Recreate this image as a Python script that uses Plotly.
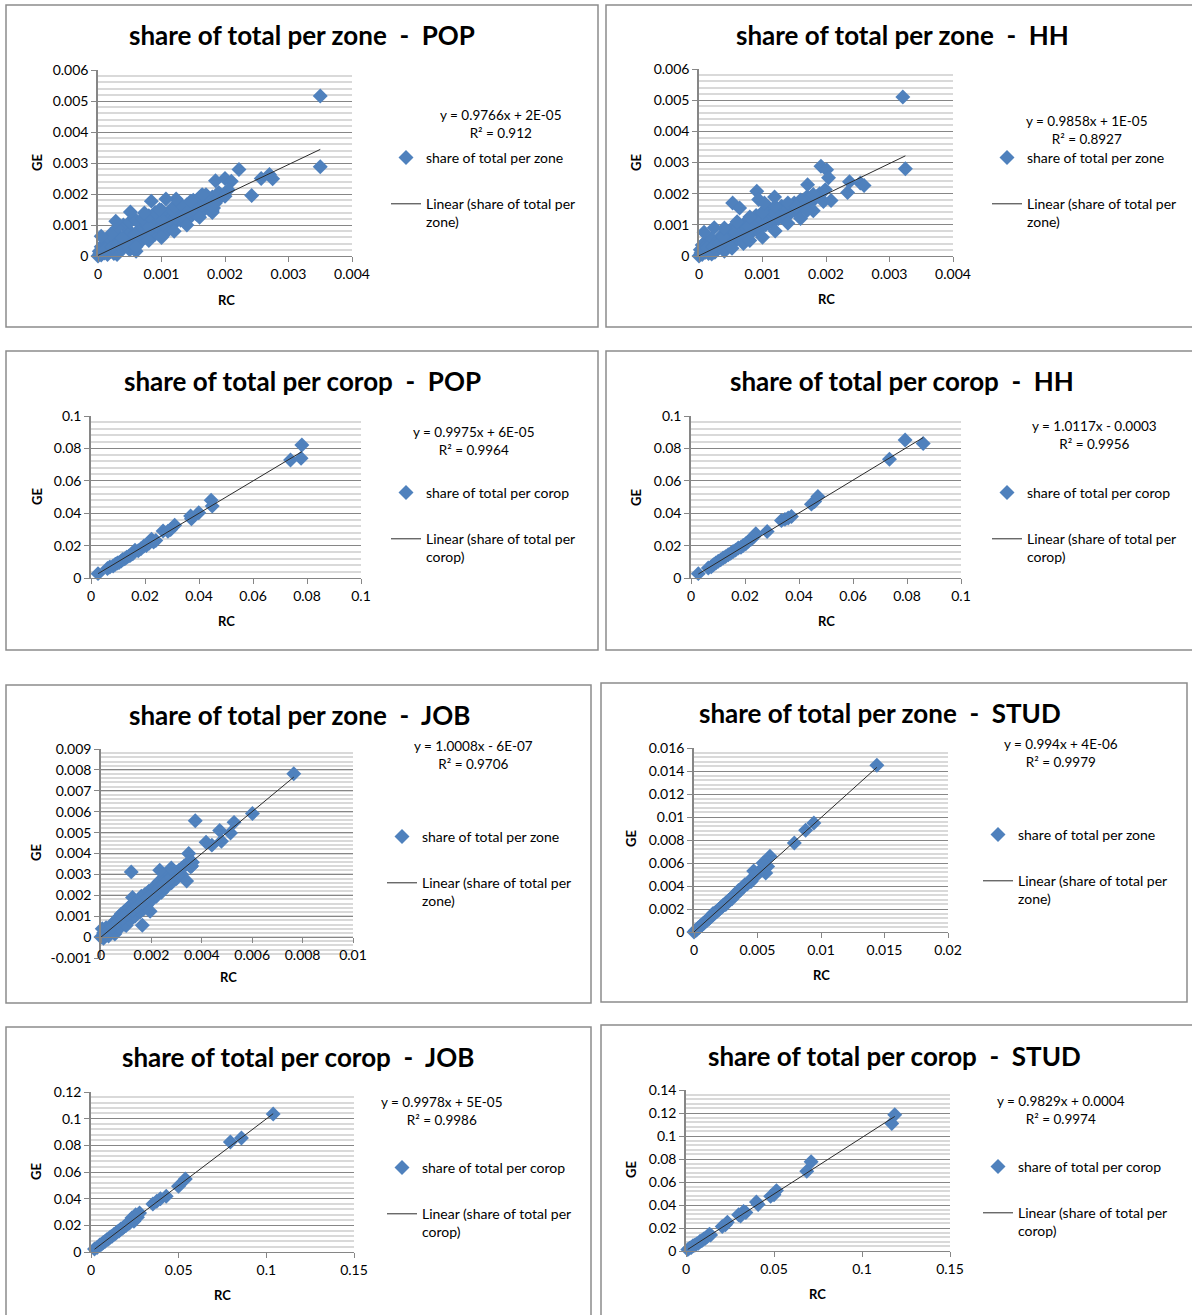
import plotly.graph_objects as go

W, H = 1192, 1315
FONT = "Lato"

# ---------------- data (RC = x, GE = y) ----------------
rc_pop_zone = [
    0.00000, 0.00002, 0.00005, 0.00005, 0.00010, 0.00010, 0.00015, 0.00015, 0.00020, 0.00020,
    0.00025, 0.00025, 0.00030, 0.00030, 0.00035, 0.00035, 0.00040, 0.00040, 0.00045, 0.00045,
    0.00050, 0.00050, 0.00050, 0.00055, 0.00055, 0.00060, 0.00060, 0.00065, 0.00065, 0.00070,
    0.00070, 0.00070, 0.00075, 0.00075, 0.00080, 0.00080, 0.00080, 0.00085, 0.00085, 0.00090,
    0.00090, 0.00090, 0.00095, 0.00095, 0.00100, 0.00100, 0.00100, 0.00105, 0.00105, 0.00110,
    0.00110, 0.00110, 0.00115, 0.00115, 0.00120, 0.00120, 0.00125, 0.00125, 0.00130, 0.00130,
    0.00135, 0.00135, 0.00140, 0.00140, 0.00145, 0.00145, 0.00150, 0.00150, 0.00155, 0.00155,
    0.00160, 0.00160, 0.00165, 0.00165, 0.00170, 0.00170, 0.00175, 0.00175, 0.00180, 0.00180,
    0.00185, 0.00190, 0.00190, 0.00180, 0.00060, 0.00030, 0.00010, 0.00003,
    0.00012, 0.00022, 0.00032, 0.00042, 0.00052, 0.00062, 0.00072, 0.00082, 0.00092, 0.00102,
    0.00112, 0.00122, 0.00132, 0.00142, 0.00152, 0.00162, 0.00172, 0.00038, 0.00058, 0.00078,
    0.00098, 0.00118, 0.00138, 0.00158,
    0.00040, 0.00050, 0.00060, 0.00030, 0.00020, 0.00070, 0.00080, 0.00090, 0.00100, 0.00120,
    0.00130, 0.00150, 0.00160, 0.00170, 0.00100, 0.00120, 0.00140, 0.00160, 0.00180, 0.00080,
    0.00060,
    0.00350, 0.00350, 0.00222, 0.00242, 0.00257, 0.00270, 0.00275, 0.00185, 0.00200, 0.00210,
    0.00205, 0.00200, 0.00164, 0.00123, 0.00107, 0.00084, 0.00051, 0.00028, 0.00005, 0.00073,
    0.00097, 0.00146, 0.00182, 0.00185]
ge_pop_zone = [
    0.00000, 0.00015, 0.00003, 0.00030, 0.00010, 0.00040, 0.00005, 0.00025, 0.00015, 0.00050,
    0.00030, 0.00008, 0.00020, 0.00045, 0.00032, 0.00060, 0.00025, 0.00048, 0.00035, 0.00065,
    0.00020, 0.00045, 0.00080, 0.00055, 0.00038, 0.00050, 0.00075, 0.00060, 0.00045, 0.00068,
    0.00090, 0.00052, 0.00075, 0.00105, 0.00065, 0.00090, 0.00120, 0.00075, 0.00100, 0.00085,
    0.00115, 0.00070, 0.00095, 0.00130, 0.00085, 0.00110, 0.00140, 0.00095, 0.00125, 0.00100,
    0.00130, 0.00082, 0.00115, 0.00150, 0.00105, 0.00135, 0.00120, 0.00160, 0.00115, 0.00140,
    0.00125, 0.00155, 0.00130, 0.00165, 0.00125, 0.00150, 0.00140, 0.00170, 0.00135, 0.00160,
    0.00150, 0.00180, 0.00145, 0.00195, 0.00160, 0.00185, 0.00150, 0.00175, 0.00165, 0.00190,
    0.00175, 0.00185, 0.00205, 0.00145, 0.00015, 0.00005, 0.00025, 0.00008,
    0.00022, 0.00028, 0.00038, 0.00042, 0.00058, 0.00065, 0.00078, 0.00085, 0.00098, 0.00102,
    0.00118, 0.00125, 0.00128, 0.00142, 0.00150, 0.00162, 0.00172, 0.00058, 0.00068, 0.00098,
    0.00122, 0.00145, 0.00152, 0.00172,
    0.00100, 0.00110, 0.00115, 0.00090, 0.00070, 0.00120, 0.00130, 0.00140, 0.00148, 0.00160,
    0.00168, 0.00180, 0.00188, 0.00198, 0.00060, 0.00080, 0.00100, 0.00125, 0.00140, 0.00050,
    0.00030,
    0.00516, 0.00288, 0.00279, 0.00195, 0.00250, 0.00263, 0.00249, 0.00243, 0.00250, 0.00241,
    0.00214, 0.00193, 0.00198, 0.00184, 0.00184, 0.00177, 0.00142, 0.00112, 0.00064, 0.00139,
    0.00150, 0.00177, 0.00155, 0.00171]

rc_hh_zone = [
    0.00000, 0.00002, 0.00005, 0.00005, 0.00010, 0.00010, 0.00015, 0.00015, 0.00020, 0.00020,
    0.00025, 0.00025, 0.00030, 0.00030, 0.00035, 0.00035, 0.00040, 0.00040, 0.00045, 0.00045,
    0.00050, 0.00050, 0.00055, 0.00055, 0.00060, 0.00060, 0.00065, 0.00065, 0.00070, 0.00070,
    0.00075, 0.00075, 0.00080, 0.00080, 0.00085, 0.00085, 0.00090, 0.00090, 0.00095, 0.00095,
    0.00100, 0.00100, 0.00105, 0.00105, 0.00110, 0.00110, 0.00115, 0.00115, 0.00120, 0.00120,
    0.00125, 0.00125, 0.00130, 0.00130, 0.00135, 0.00135, 0.00140, 0.00140, 0.00145, 0.00145,
    0.00150, 0.00150, 0.00155, 0.00155, 0.00160, 0.00160, 0.00165, 0.00165, 0.00170, 0.00170,
    0.00175, 0.00175, 0.00180, 0.00185, 0.00190, 0.00070, 0.00040, 0.00020, 0.00008, 0.00003,
    0.00012, 0.00022, 0.00032, 0.00042, 0.00052, 0.00062, 0.00072, 0.00082, 0.00092, 0.00102,
    0.00112, 0.00122, 0.00132, 0.00142, 0.00152, 0.00162, 0.00172, 0.00038, 0.00058, 0.00078,
    0.00098, 0.00118, 0.00138, 0.00158,
    0.00040, 0.00060, 0.00080, 0.00100, 0.00120, 0.00140, 0.00160, 0.00080, 0.00100, 0.00120,
    0.00140, 0.00160, 0.00180,
    0.00321, 0.00325, 0.00192, 0.00201, 0.00204, 0.00199, 0.00196, 0.00208, 0.00237, 0.00234,
    0.00254, 0.00260, 0.00171, 0.00091, 0.00119, 0.00094, 0.00103, 0.00053, 0.00064, 0.00024,
    0.00008, 0.00052, 0.00153, 0.00170, 0.00180]
ge_hh_zone = [
    0.00000, 0.00020, 0.00005, 0.00035, 0.00012, 0.00045, 0.00008, 0.00030, 0.00018, 0.00055,
    0.00035, 0.00012, 0.00025, 0.00050, 0.00035, 0.00065, 0.00030, 0.00055, 0.00040, 0.00075,
    0.00050, 0.00085, 0.00045, 0.00065, 0.00055, 0.00090, 0.00060, 0.00080, 0.00065, 0.00100,
    0.00070, 0.00110, 0.00075, 0.00120, 0.00080, 0.00105, 0.00085, 0.00130, 0.00090, 0.00115,
    0.00095, 0.00140, 0.00100, 0.00125, 0.00105, 0.00150, 0.00110, 0.00135, 0.00115, 0.00155,
    0.00120, 0.00145, 0.00125, 0.00160, 0.00130, 0.00150, 0.00135, 0.00165, 0.00140, 0.00155,
    0.00145, 0.00170, 0.00150, 0.00165, 0.00155, 0.00175, 0.00160, 0.00180, 0.00165, 0.00190,
    0.00170, 0.00185, 0.00180, 0.00190, 0.00200, 0.00040, 0.00015, 0.00006, 0.00025, 0.00010,
    0.00026, 0.00030, 0.00040, 0.00048, 0.00060, 0.00070, 0.00082, 0.00090, 0.00100, 0.00112,
    0.00120, 0.00130, 0.00140, 0.00148, 0.00158, 0.00168, 0.00176, 0.00062, 0.00075, 0.00095,
    0.00118, 0.00138, 0.00160, 0.00172,
    0.00090, 0.00110, 0.00125, 0.00140, 0.00160, 0.00170, 0.00180, 0.00050, 0.00060, 0.00080,
    0.00105, 0.00120, 0.00145,
    0.00510, 0.00280, 0.00288, 0.00277, 0.00251, 0.00213, 0.00175, 0.00178, 0.00238, 0.00204,
    0.00234, 0.00226, 0.00229, 0.00208, 0.00189, 0.00181, 0.00170, 0.00170, 0.00154, 0.00091,
    0.00076, 0.00025, 0.00159, 0.00145, 0.00197]

rc_pop_corop = [0.0026, 0.0061, 0.0070, 0.0082, 0.0090, 0.0098, 0.0104, 0.0112, 0.0118, 0.0125,
                0.0132, 0.0140, 0.0146, 0.0155, 0.0163, 0.0175, 0.0185, 0.0196, 0.0205, 0.0215,
                0.0224, 0.0232, 0.0240, 0.0267, 0.0295, 0.0310, 0.0369, 0.0399, 0.0445, 0.0449,
                0.0739, 0.0781, 0.0778, 0.0372, 0.0285]
ge_pop_corop = [0.0027, 0.0058, 0.0068, 0.0074, 0.0085, 0.0092, 0.0095, 0.0105, 0.0115, 0.0118,
                0.0128, 0.0135, 0.0140, 0.0150, 0.0171, 0.0168, 0.0180, 0.0198, 0.0200, 0.0215,
                0.0239, 0.0222, 0.0232, 0.0290, 0.0300, 0.0325, 0.0383, 0.0403, 0.0480, 0.0444,
                0.0728, 0.0821, 0.0739, 0.0365, 0.0288]

rc_hh_corop = [0.0027, 0.0064, 0.0075, 0.0083, 0.0092, 0.0101, 0.0110, 0.0119, 0.0128, 0.0138,
               0.0147, 0.0156, 0.0165, 0.0175, 0.0185, 0.0193, 0.0203, 0.0212, 0.0224, 0.0232,
               0.0240, 0.0282, 0.0335, 0.0348, 0.0360, 0.0372, 0.0446, 0.0458, 0.0470, 0.0735,
               0.0793, 0.0860]
ge_hh_corop = [0.0027, 0.0062, 0.0070, 0.0082, 0.0092, 0.0103, 0.0112, 0.0123, 0.0132, 0.0144,
               0.0152, 0.0164, 0.0172, 0.0185, 0.0190, 0.0201, 0.0212, 0.0226, 0.0240, 0.0255,
               0.0273, 0.0287, 0.0355, 0.0362, 0.0370, 0.0380, 0.0456, 0.0472, 0.0503, 0.0733,
               0.0852, 0.0830]

rc_job_zone = [
    0.00000, 0.00005, 0.00010, 0.00010, 0.00020, 0.00020, 0.00030, 0.00030, 0.00040, 0.00040,
    0.00050, 0.00050, 0.00055, 0.00060, 0.00060, 0.00070, 0.00070, 0.00075, 0.00080, 0.00080,
    0.00090, 0.00090, 0.00095, 0.00100, 0.00100, 0.00100, 0.00110, 0.00110, 0.00115, 0.00120,
    0.00120, 0.00125, 0.00130, 0.00130, 0.00135, 0.00140, 0.00140, 0.00150, 0.00150, 0.00155,
    0.00160, 0.00160, 0.00170, 0.00170, 0.00175, 0.00180, 0.00180, 0.00190, 0.00190, 0.00200,
    0.00200, 0.00210, 0.00210, 0.00220, 0.00220, 0.00230, 0.00230, 0.00240, 0.00240, 0.00250,
    0.00250, 0.00260, 0.00260, 0.00270, 0.00270, 0.00280, 0.00280, 0.00290, 0.00300, 0.00300,
    0.00310, 0.00320, 0.00320, 0.00330, 0.00340, 0.00350, 0.00360,
    0.00045, 0.00065, 0.00085, 0.00105, 0.00125, 0.00145, 0.00165, 0.00185, 0.00205, 0.00225,
    0.00245, 0.00265,
    0.00765, 0.00601, 0.00528, 0.00514, 0.00471, 0.00478, 0.00440, 0.00417, 0.00374, 0.00348,
    0.00340, 0.00120, 0.00164, 0.00233, 0.00279, 0.00195, 0.00356, 0.00363, 0.00248]
ge_job_zone = [
    0.00000, 0.00040, -0.00005, 0.00020, 0.00010, 0.00045, 0.00005, 0.00030, 0.00025, 0.00055,
    0.00035, 0.00070, 0.00015, 0.00050, 0.00080, 0.00060, 0.00095, 0.00045, 0.00075, 0.00110,
    0.00085, 0.00120, 0.00060, 0.00095, 0.00130, 0.00055, 0.00105, 0.00140, 0.00080, 0.00115,
    0.00155, 0.00190, 0.00125, 0.00160, 0.00100, 0.00135, 0.00170, 0.00145, 0.00180, 0.00120,
    0.00160, 0.00195, 0.00170, 0.00135, 0.00205, 0.00180, 0.00150, 0.00190, 0.00220, 0.00205,
    0.00175, 0.00215, 0.00240, 0.00225, 0.00195, 0.00235, 0.00265, 0.00245, 0.00215, 0.00260,
    0.00285, 0.00265, 0.00240, 0.00280, 0.00305, 0.00290, 0.00260, 0.00300, 0.00310, 0.00280,
    0.00320, 0.00330, 0.00300, 0.00340, 0.00350, 0.00345, 0.00340,
    0.00048, 0.00068, 0.00088, 0.00108, 0.00128, 0.00148, 0.00168, 0.00188, 0.00208, 0.00228,
    0.00250, 0.00268,
    0.00782, 0.00591, 0.00549, 0.00498, 0.00510, 0.00459, 0.00440, 0.00454, 0.00557, 0.00400,
    0.00268, 0.00312, 0.00057, 0.00320, 0.00331, 0.00124, 0.00336, 0.00358, 0.00252]

rc_stud_zone = [
    0.00000, 0.00010, 0.00020, 0.00030, 0.00040, 0.00050, 0.00060, 0.00070, 0.00080, 0.00090,
    0.00100, 0.00110, 0.00120, 0.00130, 0.00140, 0.00150, 0.00160, 0.00170, 0.00180, 0.00190,
    0.00200, 0.00210, 0.00220, 0.00230, 0.00240, 0.00250, 0.00260, 0.00270, 0.00280, 0.00290,
    0.00300, 0.00310, 0.00320, 0.00330, 0.00340, 0.00350, 0.00360, 0.00370, 0.00380, 0.00390,
    0.00400, 0.00420, 0.00440, 0.00460, 0.00480, 0.00500, 0.00520, 0.00540, 0.00560, 0.00580,
    0.00150, 0.00250, 0.00350, 0.00450, 0.00300,
    0.01440, 0.00944, 0.00879, 0.00790, 0.00598, 0.00565, 0.00544, 0.00470]
ge_stud_zone = [
    0.00000, 0.00012, 0.00018, 0.00032, 0.00038, 0.00052, 0.00058, 0.00072, 0.00078, 0.00092,
    0.00098, 0.00112, 0.00118, 0.00132, 0.00138, 0.00152, 0.00158, 0.00172, 0.00178, 0.00192,
    0.00198, 0.00212, 0.00218, 0.00232, 0.00238, 0.00252, 0.00258, 0.00272, 0.00278, 0.00292,
    0.00298, 0.00312, 0.00318, 0.00332, 0.00338, 0.00352, 0.00358, 0.00372, 0.00385, 0.00395,
    0.00410, 0.00418, 0.00440, 0.00470, 0.00480, 0.00510, 0.00530, 0.00545, 0.00580, 0.00570,
    0.00160, 0.00240, 0.00360, 0.00440, 0.00290,
    0.01450, 0.00948, 0.00884, 0.00774, 0.00658, 0.00513, 0.00600, 0.00530]

rc_job_corop = [0.0020, 0.0035, 0.0050, 0.0060, 0.0070, 0.0080, 0.0090, 0.0100, 0.0110, 0.0120,
                0.0130, 0.0140, 0.0150, 0.0160, 0.0170, 0.0180, 0.0190, 0.0200, 0.0210, 0.0220,
                0.0233, 0.0245, 0.0255, 0.0265, 0.0277, 0.0353, 0.0375, 0.0396, 0.0429, 0.0499,
                0.0538, 0.0795, 0.0858, 0.1039]
ge_job_corop = [0.0022, 0.0033, 0.0052, 0.0058, 0.0072, 0.0078, 0.0092, 0.0098, 0.0112, 0.0118,
                0.0132, 0.0138, 0.0152, 0.0158, 0.0172, 0.0178, 0.0192, 0.0198, 0.0212, 0.0218,
                0.0255, 0.0230, 0.0280, 0.0260, 0.0293, 0.0360, 0.0380, 0.0400, 0.0418, 0.0493,
                0.0548, 0.0825, 0.0855, 0.1035]

rc_stud_corop = [0.0010, 0.0020, 0.0030, 0.0040, 0.0050, 0.0060, 0.0070, 0.0080, 0.0090, 0.0100,
                 0.0110, 0.0120, 0.0133, 0.0140, 0.0206, 0.0224, 0.0235, 0.0299, 0.0310, 0.0327,
                 0.0340, 0.0400, 0.0410, 0.0481, 0.0500, 0.0514, 0.0686, 0.0711, 0.1169, 0.1186]
ge_stud_corop = [0.0012, 0.0025, 0.0030, 0.0045, 0.0050, 0.0062, 0.0068, 0.0085, 0.0090, 0.0105,
                 0.0110, 0.0125, 0.0146, 0.0140, 0.0213, 0.0228, 0.0250, 0.0315, 0.0305, 0.0344,
                 0.0335, 0.0426, 0.0405, 0.0475, 0.0490, 0.0525, 0.0694, 0.0776, 0.1108, 0.1184]

titles = ["share of total per zone  -  POP", "share of total per zone  -  HH",
          "share of total per corop  -  POP", "share of total per corop  -  HH",
          "share of total per zone  -  JOB", "share of total per zone  -  STUD",
          "share of total per corop  -  JOB", "share of total per corop  -  STUD"]
series_names = ["share of total per zone", "share of total per zone",
                "share of total per corop", "share of total per corop",
                "share of total per zone", "share of total per zone",
                "share of total per corop", "share of total per corop"]
trend_names = ["Linear (share of total per<br>zone)", "Linear (share of total per<br>zone)",
               "Linear (share of total per<br>corop)", "Linear (share of total per<br>corop)",
               "Linear (share of total per<br>zone)", "Linear (share of total per<br>zone)",
               "Linear (share of total per<br>corop)", "Linear (share of total per<br>corop)"]
slopes = [0.9766, 0.9858, 0.9975, 1.0117, 1.0008, 0.994, 0.9978, 0.9829]
intercepts = [2e-05, 1e-05, 6e-05, -0.0003, -6e-07, 4e-06, 5e-05, 0.0004]
eq_labels = ["y = 0.9766x + 2E-05", "y = 0.9858x + 1E-05", "y = 0.9975x + 6E-05",
             "y = 1.0117x - 0.0003", "y = 1.0008x - 6E-07", "y = 0.994x + 4E-06",
             "y = 0.9978x + 5E-05", "y = 0.9829x + 0.0004"]
r2_labels = ["R² = 0.912", "R² = 0.8927", "R² = 0.9964", "R² = 0.9956",
             "R² = 0.9706", "R² = 0.9979", "R² = 0.9986", "R² = 0.9974"]
x_ranges = [(0, 0.004), (0, 0.004), (0, 0.1), (0, 0.1), (0, 0.01), (0, 0.02), (0, 0.15), (0, 0.15)]
x_dticks = [0.001, 0.001, 0.02, 0.02, 0.002, 0.005, 0.05, 0.05]
y_ranges = [(0, 0.006), (0, 0.006), (0, 0.1), (0, 0.1), (-0.001, 0.009), (0, 0.016), (0, 0.12), (0, 0.14)]
y_dticks = [0.001, 0.001, 0.02, 0.02, 0.001, 0.002, 0.02, 0.02]
job_zone_y_ticks = [-0.001, 0, 0.001, 0.002, 0.003, 0.004, 0.005, 0.006, 0.007, 0.008, 0.009]
job_zone_y_labels = ["-0.001", "0", "0.001", "0.002", "0.003", "0.004", "0.005", "0.006",
                     "0.007", "0.008", "0.009"]

rcs = [rc_pop_zone, rc_hh_zone, rc_pop_corop, rc_hh_corop, rc_job_zone, rc_stud_zone, rc_job_corop, rc_stud_corop]
ges = [ge_pop_zone, ge_hh_zone, ge_pop_corop, ge_hh_corop, ge_job_zone, ge_stud_zone, ge_job_corop, ge_stud_corop]
for a, b in zip(rcs, ges):
    assert len(a) == len(b)

# ---------------- layout (pixel geometry) ----------------
geom = [
    dict(frame=(6, 5, 598, 327), plot=(98, 70, 352, 256), title=(302, 35), ge=(37, 163), rc=(226, 300), eq=(500, 115), leg=(427, 157)),
    dict(frame=(606, 5, 1197, 327), plot=(699, 69, 953, 256), title=(902, 35), ge=(636, 162), rc=(826, 299), eq=(1086, 121), leg=(1028, 157)),
    dict(frame=(6, 351, 598, 650), plot=(91, 416, 361, 578), title=(302, 381), ge=(37, 497), rc=(226, 621), eq=(473, 432), leg=(427, 492)),
    dict(frame=(606, 351, 1197, 650), plot=(691, 416, 961, 578), title=(902, 381), ge=(636, 497), rc=(826, 621), eq=(1094, 426), leg=(1028, 492)),
    dict(frame=(6, 685, 591, 1003), plot=(101, 749, 353, 958), title=(299, 715), ge=(36, 853), rc=(228, 977), eq=(473, 746), leg=(423, 836)),
    dict(frame=(601, 683, 1187, 1002), plot=(694, 748, 948, 932), title=(880, 713), ge=(631, 839), rc=(821, 975), eq=(1061, 744), leg=(1019, 834)),
    dict(frame=(6, 1027, 591, 1320), plot=(91, 1092, 354, 1252), title=(298, 1057), ge=(36, 1172), rc=(222, 1295), eq=(441, 1102), leg=(423, 1167)),
    dict(frame=(601, 1025, 1197, 1320), plot=(686, 1090, 950, 1251), title=(894, 1056), ge=(631, 1170), rc=(817, 1294), eq=(1061, 1101), leg=(1019, 1166)),
]

def px(x):
    return x / W

def py(y):
    return 1 - y / H

BLUE = "#4F81BD"
AXIS = "#868686"
MINOR = "#D9D9D9"

fig = go.Figure()
layout = dict(width=W, height=H, margin=dict(l=0, r=0, t=0, b=0, pad=0, autoexpand=False),
              paper_bgcolor="white", plot_bgcolor="white",
              font=dict(family=FONT, size=14, color="black"),
              showlegend=True, annotations=[], shapes=[])

for i in range(8):
    g = geom[i]
    n = i + 1
    xa = "x" if n == 1 else f"x{n}"
    ya = "y" if n == 1 else f"y{n}"
    xkey = "xaxis" if n == 1 else f"xaxis{n}"
    ykey = "yaxis" if n == 1 else f"yaxis{n}"
    lkey = "legend" if n == 1 else f"legend{n}"
    x0, y0, x1, y1 = g["plot"]
    xdom = [px(x0), px(x1)]
    ydom = [py(y1), py(y0)]

    rc, ge = rcs[i], ges[i]
    fig.add_trace(go.Scatter(
        x=rc, y=ge, mode="markers", name=series_names[i],
        marker=dict(symbol="diamond", size=11.5, color=BLUE, line=dict(width=0)),
        xaxis=xa, yaxis=ya, legend=lkey, legendgroup=f"s{n}", cliponaxis=False))
    xs = [min(rc), max(rc)]
    fig.add_trace(go.Scatter(
        x=xs, y=[slopes[i] * v + intercepts[i] for v in xs], mode="lines",
        name=trend_names[i], line=dict(color="#2b2b2b", width=1),
        xaxis=xa, yaxis=ya, legend=lkey, legendgroup=f"t{n}"))

    yr = y_ranges[i]
    xaxis = dict(domain=xdom, range=list(x_ranges[i]), dtick=x_dticks[i], tick0=0,
                 showgrid=False, zeroline=False, showline=True, linecolor=AXIS, linewidth=1,
                 ticks="outside", ticklen=5, tickcolor=AXIS, tickfont=dict(size=14, family=FONT),
                 anchor=ya, fixedrange=True, automargin=False)
    if yr[0] < 0:
        pos = ydom[0] + (0 - yr[0]) / (yr[1] - yr[0]) * (ydom[1] - ydom[0])
        xaxis.update(anchor="free", position=pos)
    yaxis = dict(domain=ydom, range=list(yr), dtick=y_dticks[i], tick0=0,
                 showgrid=True, gridcolor=AXIS, gridwidth=1, zeroline=False,
                 showline=True, linecolor=AXIS, linewidth=1.5,
                 ticks="outside", ticklen=5, tickcolor=AXIS, tickfont=dict(size=14, family=FONT),
                 minor=dict(dtick=y_dticks[i] / 5, tick0=0, showgrid=True, gridcolor=MINOR, gridwidth=1.5),
                 anchor=xa, fixedrange=True, automargin=False)
    if yr[0] < 0:
        yaxis.update(tickmode="array", tickvals=job_zone_y_ticks, ticktext=job_zone_y_labels)
        yaxis["minor"].update(tickmode="linear")
    layout[xkey] = xaxis
    layout[ykey] = yaxis

    lx, ly = g["leg"]
    layout[lkey] = dict(x=px(lx - 41), y=py(ly - 15), xanchor="left", yanchor="top",
                        bgcolor="rgba(0,0,0,0)", borderwidth=0, font=dict(size=14, family=FONT),
                        tracegroupgap=25, valign="top", itemwidth=30)

    fx0, fy0, fx1, fy1 = g["frame"]
    layout["shapes"].append(dict(type="rect", xref="paper", yref="paper",
                                 x0=px(fx0), x1=px(fx1), y0=py(fy1), y1=py(fy0),
                                 line=dict(color="#8C8C8C", width=1.5), fillcolor="rgba(0,0,0,0)", layer="below"))
    tx, ty = g["title"]
    layout["annotations"].append(dict(text="<b>" + titles[i].replace("  ", "\u00a0\u00a0") + "</b>",
                                      x=px(tx), y=py(ty), xref="paper", yref="paper",
                                      showarrow=False, xanchor="center", yanchor="middle",
                                      font=dict(size=26, family=FONT, color="black")))
    gx, gy = g["ge"]
    layout["annotations"].append(dict(text="<b>GE</b>", x=px(gx), y=py(gy), xref="paper", yref="paper",
                                      showarrow=False, textangle=-90, xanchor="center", yanchor="middle",
                                      font=dict(size=13, family=FONT, color="black")))
    rx, ry = g["rc"]
    layout["annotations"].append(dict(text="<b>RC</b>", x=px(rx), y=py(ry), xref="paper", yref="paper",
                                      showarrow=False, xanchor="center", yanchor="middle",
                                      font=dict(size=13, family=FONT, color="black")))
    ex, ey = g["eq"]
    layout["annotations"].append(dict(text=eq_labels[i] + "<br>" + r2_labels[i], x=px(ex), y=py(ey + 9),
                                      xref="paper", yref="paper", showarrow=False, align="center",
                                      xanchor="center", yanchor="middle",
                                      font=dict(size=13.5, family=FONT, color="black")))

fig.update_layout(**layout)
post = "document.body.style.margin='0';document.body.style.overflow='hidden';"
fig.write_html("out.html", post_script=post, config={"displayModeBar": False})
